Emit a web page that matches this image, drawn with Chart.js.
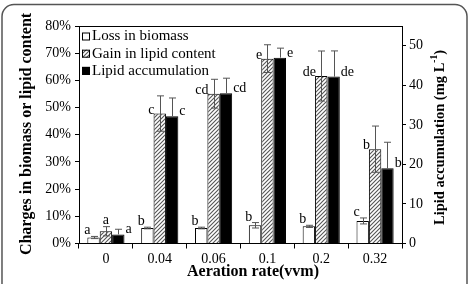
<!DOCTYPE html>
<html>
<head>
<meta charset="utf-8">
<script src="https://cdn.jsdelivr.net/npm/chart.js@4/dist/chart.umd.min.js"></script>
<style>
  html, body { margin: 0; padding: 0; background: #fff; }
</style>
</head>
<body>
<canvas id="chart" width="471" height="284"></canvas>
<script>
// aeration rates (vvm)
const rates = ["0", "0.04", "0.06", "0.1", "0.2", "0.32"];

// loss in biomass (%), left axis
const lossBiomass = [2.2, 5.7, 5.7, 6.7, 6.3, 8.3];
const lossErr = [0.4, 0.3, 0.3, 1.0, 0.4, 1.1];
const lossSig = ["a", "b", "b", "b", "b", "c"];

// gain in lipid content (%), left axis
const lipidGain = [4.5, 47.8, 55.1, 68.0, 61.6, 34.7];
const gainErr = [1.7, 6.5, 5.3, 5.1, 9.2, 8.5];
const gainSig = ["a", "c", "cd", "e", "de", "b"];

// lipid accumulation (mg/L), right axis
const lipidAcc = [2.3, 32.2, 38.0, 47.0, 42.2, 19.0];
const accErr = [1.3, 4.6, 3.8, 2.4, 6.5, 6.6];
const accSig = ["a", "c", "cd", "e", "de", "b"];

const leftTicks = { min: 0, max: 80, step: 10 };
const rightTicks = { min: 0, max: 55, step: 10 };

const serif = "'Liberation Serif', 'Times New Roman', serif";
Chart.defaults.font.family = serif;
Chart.defaults.color = "#000";

// diagonal hatch
function hatch() {
  const c = document.createElement("canvas");
  c.width = 4; c.height = 4;
  const g = c.getContext("2d");
  g.fillStyle = "#fff";
  g.fillRect(0, 0, 4, 4);
  g.strokeStyle = "#555";
  g.lineWidth = 1.1;
  g.beginPath();
  g.moveTo(0, 4); g.lineTo(4, 0);
  g.moveTo(-1, 1); g.lineTo(1, -1);
  g.moveTo(3, 5); g.lineTo(5, 3);
  g.stroke();
  return g.createPattern(c, "repeat");
}
const hatchFill = hatch();

const errs = [lossErr, gainErr, accErr];
const sigs = [lossSig, gainSig, accSig];

const extras = {
  id: "extras",
  afterDatasetsDraw(chart) {
    const ctx = chart.ctx;
    chart.data.datasets.forEach((ds, di) => {
      const meta = chart.getDatasetMeta(di);
      const scale = chart.scales[ds.yAxisID];
      meta.data.forEach((bar, i) => {
        const v = ds.data[i], e = errs[di][i];
        const yTop = scale.getPixelForValue(v + e);
        const yLow = scale.getPixelForValue(v - e);
        const x = Math.round(bar.x) + 0.5;
        ctx.save();
        ctx.strokeStyle = "#555";
        ctx.lineWidth = 1;
        ctx.beginPath();
        ctx.moveTo(x, di === 2 ? bar.y : yLow);
        ctx.lineTo(x, yTop);
        ctx.moveTo(x - 3.5, yTop); ctx.lineTo(x + 3.5, yTop);
        if (di !== 2) { ctx.moveTo(x - 3.5, yLow); ctx.lineTo(x + 3.5, yLow); }
        ctx.stroke();

        const left = bar.x - bar.width / 2, right = bar.x + bar.width / 2;
        ctx.fillStyle = "#000";
        ctx.font = "14px " + serif;
        ctx.textBaseline = "alphabetic";
        const s = sigs[di][i];
        if (di === 0) {
          ctx.textAlign = "center";
          ctx.fillText(s, left, yTop - 2);
        } else if (di === 1) {
          if (v < 10) {
            ctx.textAlign = "center";
            ctx.fillText(s, bar.x, yTop - 3);
          } else {
            ctx.textAlign = "right";
            ctx.fillText(s, left + 1, bar.y);
          }
        } else {
          ctx.textAlign = "left";
          ctx.fillText(s, right + 1, bar.y - 1);
        }
        ctx.restore();
      });
    });
  },
  afterDraw(chart) {
    const ctx = chart.ctx;
    const a = chart.chartArea;
    ctx.save();
    // top of plot box
    ctx.strokeStyle = "#000";
    ctx.lineWidth = 1;
    ctx.beginPath();
    ctx.moveTo(a.left, a.top + 0.5);
    ctx.lineTo(a.right, a.top + 0.5);
    ctx.stroke();

    // legend inside the plot
    ctx.font = "15px " + serif;
    ctx.textBaseline = "middle";
    ctx.textAlign = "left";
    chart.data.datasets.forEach((ds, di) => {
      const y = a.top + 10 + di * 17.2;
      ctx.fillStyle = ds.backgroundColor;
      ctx.fillRect(a.left + 3, y - 3.5, 8, 8);
      ctx.strokeStyle = "#000";
      ctx.strokeRect(a.left + 3.5, y - 3, 7, 7);
      ctx.fillStyle = "#000";
      ctx.fillText(ds.label, a.left + 13, y + 0.5);
    });

    // axis titles
    ctx.font = "bold 16px " + serif;
    ctx.textAlign = "center";
    ctx.fillText("Aeration rate(vvm)", 253, 271.5);

    ctx.save();
    ctx.translate(27, 134);
    ctx.rotate(-Math.PI / 2);
    ctx.fillText("Charges in biomass or lipid content", 0, 0);
    ctx.restore();

    ctx.save();
    ctx.translate(440, 137.5);
    ctx.rotate(-Math.PI / 2);
    const p1 = "Lipid accumulation (mg L", p2 = "-1", p3 = ")";
    const big = "bold 14.5px " + serif, small = "bold 9.5px " + serif;
    ctx.font = big;
    const w1 = ctx.measureText(p1).width, w3 = ctx.measureText(p3).width;
    ctx.font = small;
    const w2 = ctx.measureText(p2).width;
    let x0 = -(w1 + w2 + w3) / 2;
    ctx.textAlign = "left";
    ctx.font = big;
    ctx.fillText(p1, x0, 0);
    ctx.font = small;
    ctx.fillText(p2, x0 + w1, -5);
    ctx.font = big;
    ctx.fillText(p3, x0 + w1 + w2, 0);
    ctx.restore();

    // outer frame
    ctx.strokeStyle = "#555";
    ctx.lineWidth = 1.5;
    ctx.beginPath();
    ctx.roundRect(2, 4.5, 465, 310, 12);
    ctx.stroke();
    ctx.restore();
  }
};

new Chart(document.getElementById("chart"), {
  type: "bar",
  data: {
    labels: rates,
    datasets: [
      {
        label: "Loss in biomass",
        data: lossBiomass,
        yAxisID: "y",
        backgroundColor: "#fff",
        borderColor: "#000",
        borderWidth: 1,
      },
      {
        label: "Gain in lipid content",
        data: lipidGain,
        yAxisID: "y",
        backgroundColor: hatchFill,
        borderColor: "#000",
        borderWidth: 1,
      },
      {
        label: "Lipid accumulation",
        data: lipidAcc,
        yAxisID: "y1",
        backgroundColor: "#000",
        borderColor: "#000",
        borderWidth: 1,
      },
    ],
  },
  options: {
    responsive: false,
    animation: false,
    layout: { padding: { top: 26, left: 0, right: 0, bottom: 0 } },
    plugins: { legend: { display: false }, tooltip: { enabled: false } },
    datasets: { bar: { categoryPercentage: 0.69, barPercentage: 1.0 } },
    scales: {
      x: {
        grid: { drawOnChartArea: false, tickLength: 5, color: "#000" },
        border: { color: "#000" },
        ticks: { font: { size: 14 }, padding: 2 },
        afterFit: (s) => { s.height = 40.5; },
      },
      y: {
        position: "left",
        min: leftTicks.min,
        max: leftTicks.max,
        grid: { drawOnChartArea: false, tickLength: 4, color: "#000" },
        border: { color: "#000" },
        ticks: {
          stepSize: leftTicks.step,
          font: { size: 14 },
          padding: 4,
          callback: (v) => v + "%",
        },
        afterFit: (s) => { s.width = 79; },
      },
      y1: {
        position: "right",
        min: rightTicks.min,
        max: rightTicks.max,
        grid: { drawOnChartArea: false, tickLength: 4, color: "#000" },
        border: { color: "#000" },
        ticks: { stepSize: rightTicks.step, includeBounds: false, font: { size: 14 }, padding: 3 },
        afterFit: (s) => { s.width = 69; },
      },
    },
  },
  plugins: [extras],
});
</script>
</body>
</html>
